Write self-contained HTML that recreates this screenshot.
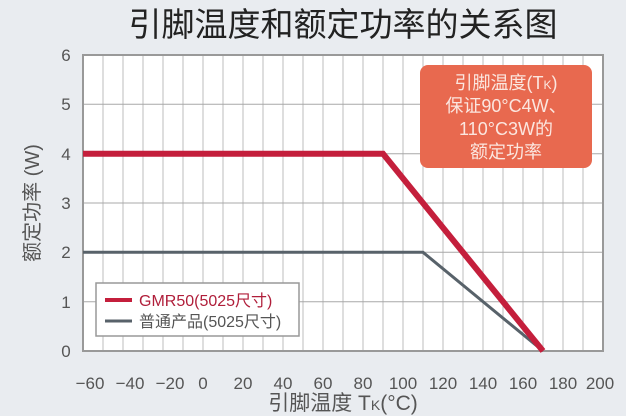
<!DOCTYPE html>
<html><head><meta charset="utf-8"><style>
html,body{margin:0;padding:0;background:#e9ecf0;}
svg{display:block;}
text{font-family:"Liberation Sans","Noto Sans CJK SC",sans-serif;}
</style></head><body>
<svg width="626" height="416" viewBox="0 0 626 416" xmlns="http://www.w3.org/2000/svg">
<rect width="626" height="416" fill="#e9ecf0"/>
<text x="343" y="36" font-size="33" text-anchor="middle" fill="#222">引脚温度和额定功率的关系图</text>
<rect x="83" y="55" width="520" height="296" fill="#fff"/>
<g stroke="#bdbdbd" stroke-width="1">
<line x1="103" y1="55" x2="103" y2="351"/><line x1="123" y1="55" x2="123" y2="351"/><line x1="143" y1="55" x2="143" y2="351"/><line x1="163" y1="55" x2="163" y2="351"/><line x1="183" y1="55" x2="183" y2="351"/><line x1="203" y1="55" x2="203" y2="351"/><line x1="223" y1="55" x2="223" y2="351"/><line x1="243" y1="55" x2="243" y2="351"/><line x1="263" y1="55" x2="263" y2="351"/><line x1="283" y1="55" x2="283" y2="351"/><line x1="303" y1="55" x2="303" y2="351"/><line x1="323" y1="55" x2="323" y2="351"/><line x1="343" y1="55" x2="343" y2="351"/><line x1="363" y1="55" x2="363" y2="351"/><line x1="383" y1="55" x2="383" y2="351"/><line x1="403" y1="55" x2="403" y2="351"/><line x1="423" y1="55" x2="423" y2="351"/><line x1="443" y1="55" x2="443" y2="351"/><line x1="463" y1="55" x2="463" y2="351"/><line x1="483" y1="55" x2="483" y2="351"/><line x1="503" y1="55" x2="503" y2="351"/><line x1="523" y1="55" x2="523" y2="351"/><line x1="543" y1="55" x2="543" y2="351"/><line x1="563" y1="55" x2="563" y2="351"/><line x1="583" y1="55" x2="583" y2="351"/>
</g>
<g stroke="#a8a8a8" stroke-width="1">
<line x1="83" y1="104.3" x2="603" y2="104.3"/><line x1="83" y1="153.7" x2="603" y2="153.7"/><line x1="83" y1="203" x2="603" y2="203"/><line x1="83" y1="252.3" x2="603" y2="252.3"/><line x1="83" y1="301.7" x2="603" y2="301.7"/>
</g>
<rect x="83" y="55" width="520" height="296" fill="none" stroke="#999" stroke-width="2"/>
<polyline points="83,252.3 423,252.3 543,351" fill="none" stroke="#58626a" stroke-width="3"/>
<polyline points="83,153.7 383,153.7 543,351" fill="none" stroke="#c41f3c" stroke-width="6"/>
<rect x="420" y="65" width="172" height="103" rx="8" fill="#e8694f"/>
<g fill="#fbe6df" font-size="18" text-anchor="middle">
<text x="506" y="89">引脚温度(T<tspan font-size="12">K</tspan>)</text>
<text x="506" y="112">保证90°C4W、</text>
<text x="506" y="135">110°C3W的</text>
<text x="506" y="158">额定功率</text>
</g>
<rect x="96" y="283" width="203" height="53" fill="#fff" stroke="#999" stroke-width="1.5"/>
<line x1="105" y1="300" x2="132" y2="300" stroke="#c41f3c" stroke-width="4"/>
<line x1="105" y1="321" x2="132" y2="321" stroke="#58626a" stroke-width="3"/>
<text x="139" y="306" font-size="16" fill="#b01e3a">GMR50(5025尺寸)</text>
<text x="139" y="327" font-size="16" fill="#555">普通产品(5025尺寸)</text>
<g font-size="17" fill="#555" text-anchor="middle">
<text x="66" y="61">6</text><text x="66" y="110">5</text><text x="66" y="160">4</text><text x="66" y="209">3</text><text x="66" y="258">2</text><text x="66" y="308">1</text><text x="66" y="357">0</text>
<text x="90" y="389">−60</text><text x="130" y="389">−40</text><text x="170" y="389">−20</text><text x="203" y="389">0</text><text x="243" y="389">20</text><text x="283" y="389">40</text><text x="323" y="389">60</text><text x="363" y="389">80</text><text x="403" y="389">100</text><text x="443" y="389">120</text><text x="483" y="389">140</text><text x="523" y="389">160</text><text x="563" y="389">180</text><text x="600" y="389">200</text>
</g>
<text x="343" y="410" font-size="21" fill="#555" text-anchor="middle">引脚温度 T<tspan font-size="14">K</tspan>(°C)</text>
<text transform="translate(39,203) rotate(-90)" font-size="20" fill="#555" text-anchor="middle">额定功率 (W)</text>
</svg>
</body></html>
